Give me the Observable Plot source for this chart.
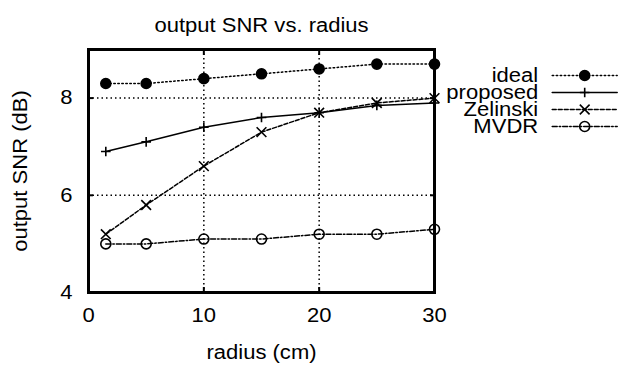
<!DOCTYPE html>
<html><head><meta charset="utf-8">
<script src="https://cdn.jsdelivr.net/npm/d3@7"></script>
<script src="https://cdn.jsdelivr.net/npm/@observablehq/plot@0.6"></script>
<style>
body{margin:0;background:#fff;}
#wrap{position:relative;width:631px;height:365px;background:#fff;}
#main{position:absolute;left:0;top:0;}
#legend{position:absolute;left:440px;top:50px;}
</style></head>
<body><div id="wrap"><div id="main"></div><div id="legend"></div></div>
<script>
// ---- data ----
const title = "output SNR vs. radius";
const xLabel = "radius (cm)";
const yLabel = "output SNR (dB)";
const radius = [1.5, 5, 10, 15, 20, 25, 30];
const seriesNames = ["ideal", "proposed", "Zelinski", "MVDR"];
const ideal = [8.3, 8.3, 8.4, 8.5, 8.6, 8.7, 8.7];
const proposed = [6.9, 7.1, 7.4, 7.6, 7.7, 7.85, 7.9];
const zelinski = [5.2, 5.8, 6.6, 7.3, 7.7, 7.9, 8.0];
const mvdr = [5.0, 5.0, 5.1, 5.1, 5.2, 5.2, 5.3];
const xTicks = [0, 10, 20, 30];
const yTicks = [4, 6, 8];
const xGrid = [10, 20];
const yGrid = [6, 8];

// ---- styles ----
const FONT = "'Liberation Sans', Arial, Helvetica, sans-serif";
const FS = 19.5;        // font size
const STRETCH = 1.13;   // horizontal stretch of the reference's lettering
const styles = {
  ideal:    {dash: "1.5,2.5", symbol: "circle", fill: "black", r: 5},
  proposed: {dash: null, symbol: "plus", fill: "none", r: 3.2},
  Zelinski: {dash: "4,2", symbol: "times", fill: "none", r: 4.5},
  MVDR:     {dash: "5,2,1.5,2", symbol: "circle", fill: "none", r: 5}
};
const values = {ideal: ideal, proposed: proposed, Zelinski: zelinski, MVDR: mvdr};
const rows = seriesNames.flatMap(s => radius.map((x, i) => ({series: s, x: x, y: values[s][i]})));

const seriesMarks = seriesNames.flatMap(s => {
  const st = styles[s];
  const d = rows.filter(r => r.series === s);
  return [
    Plot.line(d, {x: "x", y: "y", stroke: "black", strokeWidth: 1.5, strokeDasharray: st.dash}),
    Plot.dot(d, {x: "x", y: "y", symbol: st.symbol, r: st.r, fill: st.fill, stroke: "black", strokeWidth: 1.6})
  ];
});

const grid = {stroke: "black", strokeOpacity: 1, strokeWidth: 1.5, strokeDasharray: "1.5,3"};
const fmt = d => String(d);

const main = Plot.plot({
  width: 631, height: 365,
  marginLeft: 88, marginRight: 197, marginTop: 49, marginBottom: 73,
  style: {fontFamily: FONT, fontSize: FS + "px", color: "black", background: "white"},
  x: {domain: [0, 30]},
  y: {domain: [4, 9]},
  marks: [
    Plot.gridX(xGrid, grid),
    Plot.gridY(yGrid, grid),
    ...seriesMarks,
    Plot.frame({stroke: "black", strokeWidth: 3}),
    Plot.axisX({ticks: xGrid, tickSize: -5, strokeWidth: 2, tickFormat: () => "", label: null}),
    Plot.axisX({anchor: "top", ticks: xGrid, tickSize: -5, strokeWidth: 2, tickFormat: () => "", label: null}),
    Plot.axisY({ticks: yGrid, tickSize: -5, strokeWidth: 2, tickFormat: () => "", label: null}),
    Plot.axisY({anchor: "right", ticks: yGrid, tickSize: -5, strokeWidth: 2, tickFormat: () => "", label: null}),
    Plot.axisX({ticks: xTicks, tickSize: 0, tickPadding: 16, fontSize: FS, tickFormat: fmt,
      label: xLabel, labelAnchor: "center", labelOffset: 66, labelArrow: "none"}),
    Plot.axisY({ticks: yTicks, tickSize: 0, tickPadding: 16, fontSize: FS, tickFormat: fmt,
      label: yLabel, labelAnchor: "center", labelOffset: 75, labelArrow: "none"}),
    Plot.text([title], {frameAnchor: "top", dy: -31, fontSize: FS, fill: "black"})
  ]
});
document.getElementById("main").appendChild(main);

// ---- legend ----
const legendMarks = seriesNames.flatMap(s => {
  const st = styles[s];
  return [
    Plot.line([0, 1], {x: d => d, y: () => s, stroke: "black", strokeWidth: 1.5, strokeDasharray: st.dash}),
    Plot.dot([0.5], {x: d => d, y: () => s, symbol: st.symbol, r: st.r, fill: st.fill, stroke: "black", strokeWidth: 1.6})
  ];
});
const legend = Plot.plot({
  width: 191, height: 110, margin: 0,
  style: {fontFamily: FONT, fontSize: FS + "px", color: "black", background: "transparent"},
  x: {domain: [0, 1], range: [111.7, 176.7], axis: null},
  y: {type: "point", domain: seriesNames, range: [16, 84.3], axis: null},
  marks: [
    ...legendMarks,
    Plot.text(seriesNames, {x: () => 0, y: d => d, dx: -14, textAnchor: "end", fontSize: FS, fill: "black"})
  ]
});
document.getElementById("legend").appendChild(legend);

// widen lettering horizontally around each text's anchor, as in the reference
for (const svg of [main, legend]) {
  svg.querySelectorAll("text").forEach(t => {
    const tr = t.getAttribute("transform") || "";
    const x = +(t.getAttribute("x") || 0);
    t.removeAttribute("x");
    t.setAttribute("transform", `${tr} translate(${x},0) scale(${STRETCH},1)`);
  });
}
</script>
</body></html>
